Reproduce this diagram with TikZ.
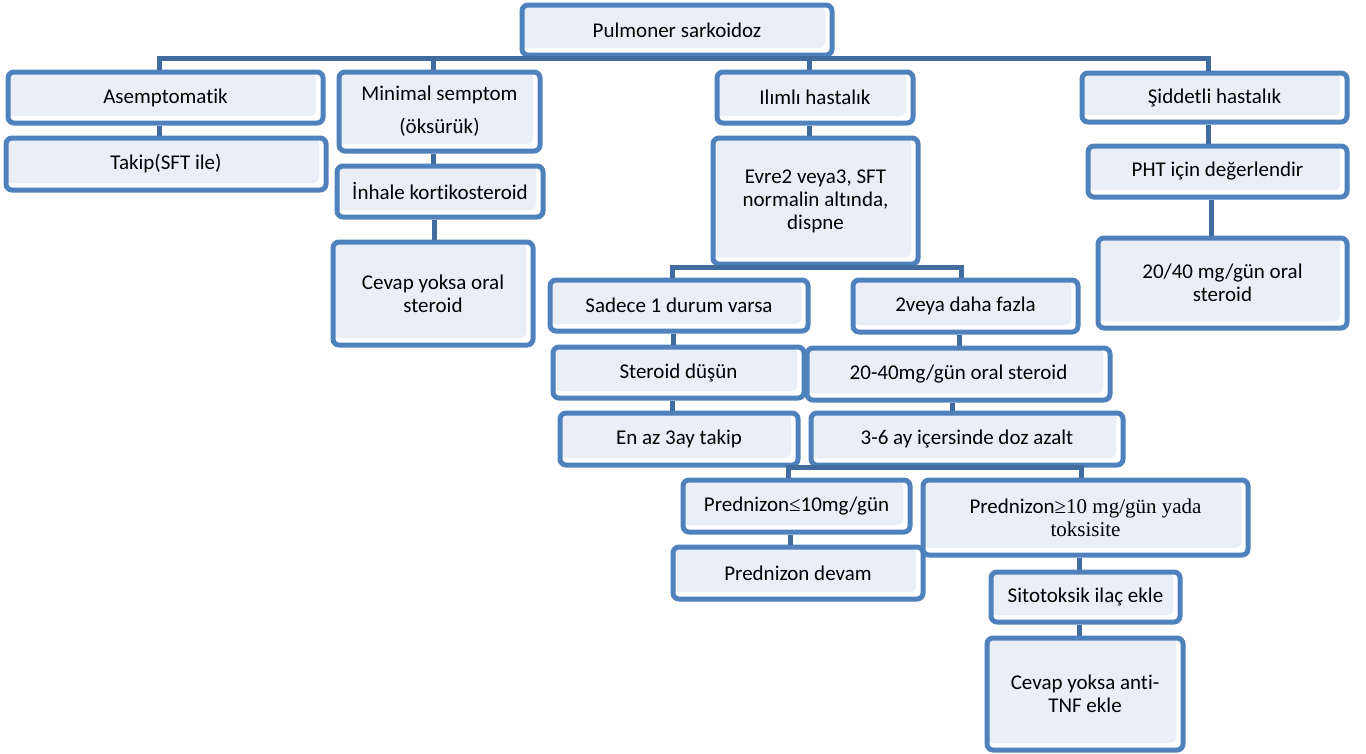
\documentclass[tikz,border=0pt]{standalone}
\usepackage{fontspec}
\setmainfont{Carlito}[Ligatures={NoCommon},RawFeature={-liga;-clig;-dlig}]
\newfontfamily\romfont{Liberation Serif}
\usepackage{tikz}
\usepackage{xcolor}
\definecolor{kenar}{RGB}{79,129,189}
\definecolor{icrenk}{RGB}{234,239,247}
\definecolor{hat}{RGB}{66,108,160}

\begin{document}
\begin{tikzpicture}[x=1pt,y=-1pt,
  kutu/.style={draw=kenar,line width=5pt,rounded corners=6pt,fill=white,align=center,
    font=\fontsize{21}{23}\selectfont,inner sep=2pt,
    path picture={\fill[icrenk] (path picture bounding box.north west) rectangle ([shift={(-7pt,7pt)}]path picture bounding box.south east);}},
  bag/.style={draw=hat,line width=5pt}]
  \useasboundingbox (0,0) rectangle (1366,753);
  % ust seviye
  \node[kutu,minimum width=310pt,minimum height=50pt] (puls) at (677,30) {Pulmoner sarkoidoz};
  \node[kutu,minimum width=315pt,minimum height=51pt] (asem) at (165.5,97.5) {Asemptomatik};
  \node[kutu,minimum width=320pt,minimum height=52pt] (takip) at (166,164) {Takip(SFT ile)};
  \node[kutu,minimum width=201pt,minimum height=79pt] (minimal) at (439.5,111.5) {Minimal semptom\\[10pt](öksürük)};
  \node[kutu,minimum width=206pt,minimum height=51pt] (inhale) at (440,191.5) {İnhale kortikosteroid};
  \node[kutu,minimum width=200pt,minimum height=103pt] (cevaporal) at (433,293.5) {Cevap yoksa oral\\steroid};
  \node[kutu,minimum width=196pt,minimum height=51pt] (ilimli) at (815,97.5) {Ilımlı hastalık};
  \node[kutu,minimum width=205pt,minimum height=126pt] (evre) at (815.5,201) {Evre2 veya3, SFT\\normalin altında,\\dispne};
  \node[kutu,minimum width=265pt,minimum height=49pt] (siddetli) at (1214.5,97.5) {Şiddetli hastalık};
  \node[kutu,minimum width=259pt,minimum height=51pt] (pht) at (1217.5,171.5) {PHT için değerlendir};
  \node[kutu,minimum width=249pt,minimum height=90pt] (oral) at (1222.5,283) {20/40 mg/gün oral\\steroid};
  % ilimli alt dallar
  \node[kutu,minimum width=258pt,minimum height=51pt] (sadece) at (679,305.5) {Sadece 1 durum varsa};
  \node[kutu,minimum width=251pt,minimum height=51pt] (steroid) at (678.5,372.5) {Steroid düşün};
  \node[kutu,minimum width=238pt,minimum height=52pt] (enaz) at (679,439) {En az 3ay takip};
  \node[kutu,minimum width=225pt,minimum height=52pt] (ikiveya) at (965.5,306) {2veya daha fazla};
  \node[kutu,minimum width=303pt,minimum height=52pt] (doz) at (958.5,374) {20-40mg/gün oral steroid};
  \node[kutu,minimum width=312pt,minimum height=52pt] (azalt) at (967,439) {3-6 ay içersinde doz azalt};
  \node[kutu,minimum width=227pt,minimum height=52pt] (predle) at (796.5,506) {Prednizon{\romfont ≤}10mg/gün};
  \node[kutu,minimum width=250pt,minimum height=52pt] (devam) at (798,573) {Prednizon devam};
  \node[kutu,minimum width=325pt,minimum height=75pt] (predge) at (1085.5,517.5) {Prednizon{\romfont ≥10 mg/gün yada}\\{\romfont toksisite}};
  \node[kutu,minimum width=189pt,minimum height=50pt] (sito) at (1085.5,597) {Sitotoksik ilaç ekle};
  \node[kutu,minimum width=196pt,minimum height=112pt] (antitnf) at (1085,694) {Cevap yoksa anti-\\TNF ekle};
  % baglantilar
  \draw[bag] ([xshift=-6pt]asem.north) -- ++(0,-11) coordinate (ust) -| ([xshift=-6pt]siddetli.north);
  \draw[bag] ([xshift=-6pt]puls.south) -- ([xshift=-6pt]puls.south |- ust);
  \foreach \k in {minimal,ilimli}
    \draw[bag] ([xshift=-6pt]\k.north) -- ([xshift=-6pt]\k.north |- ust);
  \draw[bag] ([xshift=-7pt]sadece.north) -- ++(0,-10) coordinate (orta) -| ([xshift=-4pt]ikiveya.north);
  \draw[bag] ([xshift=-7pt]evre.south) -- ([xshift=-7pt]evre.south |- orta);
  \draw[bag] ([xshift=-8pt]predle.north) -- ++(0,-10) coordinate (alt) -| ([xshift=-4pt]predge.north);
  \draw[bag] ([xshift=-7pt]azalt.south) -- ([xshift=-7pt]azalt.south |- alt);
  \foreach \a/\b in {asem/takip,minimal/inhale,inhale/cevaporal,ilimli/evre,siddetli/pht,pht/oral,
      sadece/steroid,steroid/enaz,ikiveya/doz,doz/azalt,predle/devam,predge/sito,sito/antitnf}
    \draw[bag] ([xshift=-6pt]\a.south) -- ([xshift=-6pt]\a.south |- \b.north);
\end{tikzpicture}
\end{document}
